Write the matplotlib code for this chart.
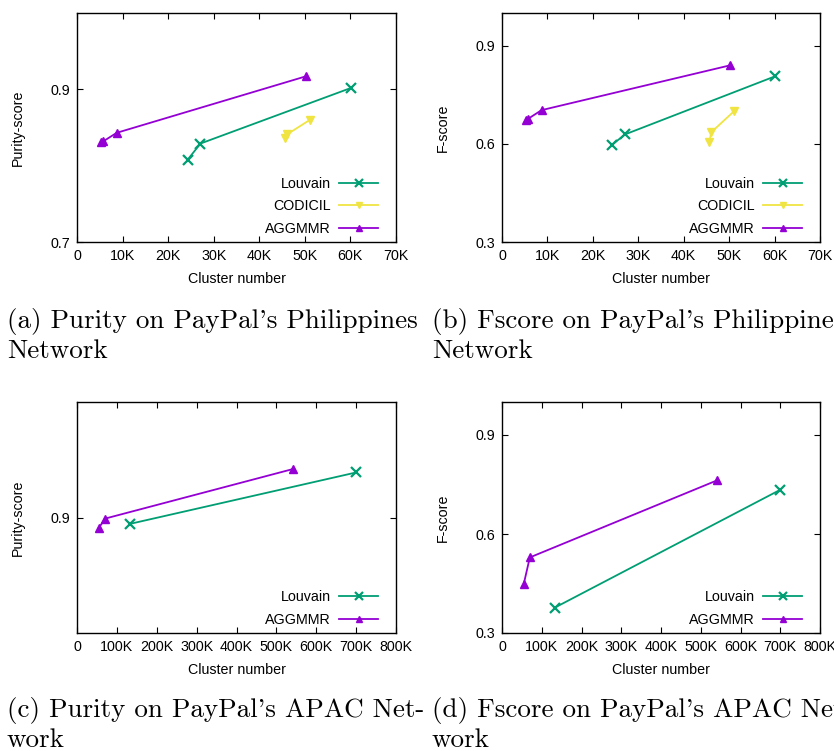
import numpy as np
import matplotlib
matplotlib.use('Agg')
import matplotlib.pyplot as plt

# Philippines network
ph_louvain_x = [24300, 27100, 60200]
ph_louvain_purity = [0.808, 0.829, 0.902]
ph_louvain_f = [0.598, 0.629, 0.807]
ph_codicil_x = [45600, 46100, 51100]
ph_codicil_purity = [0.836, 0.841, 0.860]
ph_codicil_f = [0.605, 0.636, 0.700]
ph_agg_x = [5300, 5800, 8700, 50200]
ph_agg_purity = [0.831, 0.832, 0.843, 0.917]
ph_agg_f = [0.672, 0.677, 0.703, 0.840]

# APAC network
ap_louvain_x = [133000, 700000]
ap_louvain_purity = [0.8945, 0.939]
ap_louvain_f = [0.377, 0.734]
ap_agg_x = [55000, 70000, 542000]
ap_agg_purity = [0.891, 0.899, 0.942]
ap_agg_f = [0.450, 0.529, 0.763]

ph_xticks = [0, 10000, 20000, 30000, 40000, 50000, 60000, 70000]
ph_xlabels = ['0', '10K', '20K', '30K', '40K', '50K', '60K', '70K']
ap_xticks = [0, 100000, 200000, 300000, 400000, 500000, 600000, 700000, 800000]
ap_xlabels = ['0', '100K', '200K', '300K', '400K', '500K', '600K', '700K', '800K']

captions = [("(a) Purity on PayPal's Philippines", "Network"),
            ("(b) Fscore on PayPal's Philippines", "Network"),
            ("(c) Purity on PayPal's APAC Net-", "work"),
            ("(d) Fscore on PayPal's APAC Net-", "work")]

c_louvain = '#009e73'
c_codicil = '#f0e442'
c_agg = '#9400d3'

plt.rcParams['font.family'] = ['Liberation Sans', 'DejaVu Sans']

W, H = 834, 751
fig = plt.figure(figsize=(W / 100, H / 100), dpi=100)

def make_ax(l, t, r, b):
    return fig.add_axes([l / W, 1 - b / H, (r - l) / W, (b - t) / H])

ax_a = make_ax(77, 13, 396, 242)
ax_b = make_ax(502, 13, 820, 242)
ax_c = make_ax(77, 402, 396, 633)
ax_d = make_ax(502, 402, 820, 633)

def style(ax, ylabel, xticks, xlabels, yticks, ylim):
    ax.set_xlim(xticks[0], xticks[-1])
    ax.set_ylim(*ylim)
    ax.set_xticks(xticks)
    ax.set_xticklabels(xlabels)
    ax.set_yticks(yticks)
    ax.set_yticklabels(['%.1f' % v for v in yticks])
    ax.tick_params(direction='in', top=True, right=True, labelsize=10.3,
                   length=4, width=0.8, pad=5)
    ax.set_xlabel('Cluster number', fontsize=10.3)
    ax.set_ylabel(ylabel, fontsize=10.3)
    ax.xaxis.set_label_coords(0.5, -0.13)
    ax.yaxis.set_label_coords(-0.163, 0.5)
    for s in ax.spines.values():
        s.set_linewidth(1.0)

kw = dict(lw=1.3)
xkw = dict(marker='x', ms=7, mew=1.6)
vkw = dict(marker='v', ms=6)
tkw = dict(marker='^', ms=6)
# (a)
ax_a.plot(ph_louvain_x, ph_louvain_purity, color=c_louvain, label='Louvain', **xkw, **kw)
ax_a.plot(ph_codicil_x, ph_codicil_purity, color=c_codicil, label='CODICIL', **vkw, **kw)
ax_a.plot(ph_agg_x, ph_agg_purity, color=c_agg, label='AGGMMR', **tkw, **kw)
style(ax_a, 'Purity-score', ph_xticks, ph_xlabels, [0.7, 0.9], (0.7, 1.0))
# (b)
ax_b.plot(ph_louvain_x, ph_louvain_f, color=c_louvain, label='Louvain', **xkw, **kw)
ax_b.plot(ph_codicil_x, ph_codicil_f, color=c_codicil, label='CODICIL', **vkw, **kw)
ax_b.plot(ph_agg_x, ph_agg_f, color=c_agg, label='AGGMMR', **tkw, **kw)
style(ax_b, 'F-score', ph_xticks, ph_xlabels, [0.3, 0.6, 0.9], (0.3, 1.0))
# (c)
ax_c.plot(ap_louvain_x, ap_louvain_purity, color=c_louvain, label='Louvain', **xkw, **kw)
ax_c.plot(ap_agg_x, ap_agg_purity, color=c_agg, label='AGGMMR', **tkw, **kw)
style(ax_c, 'Purity-score', ap_xticks, ap_xlabels, [0.9], (0.8, 1.0))
# (d)
ax_d.plot(ap_louvain_x, ap_louvain_f, color=c_louvain, label='Louvain', **xkw, **kw)
ax_d.plot(ap_agg_x, ap_agg_f, color=c_agg, label='AGGMMR', **tkw, **kw)
style(ax_d, 'F-score', ap_xticks, ap_xlabels, [0.3, 0.6, 0.9], (0.3, 1.0))

for ax in [ax_a, ax_b, ax_c, ax_d]:
    ax.legend(loc='lower right', bbox_to_anchor=(1 - 8 / 319, -4 / 229),
              frameon=False, markerfirst=False, fontsize=10.3,
              handlelength=2.7, labelspacing=0.6, handletextpad=0.6,
              borderaxespad=0.3, markerscale=0.75)

# captions
cap_pos = [(7, 328), (432, 328), (7, 717), (432, 717)]
for (l1, l2), (x, y) in zip(captions, cap_pos):
    fig.text(x / W, 1 - y / H, l1, family='cmr10', fontsize=19.5, va='baseline', ha='left')
    fig.text(x / W, 1 - (y + 30) / H, l2, family='cmr10', fontsize=19.5, va='baseline', ha='left')

fig.savefig('out.png', dpi=100)
